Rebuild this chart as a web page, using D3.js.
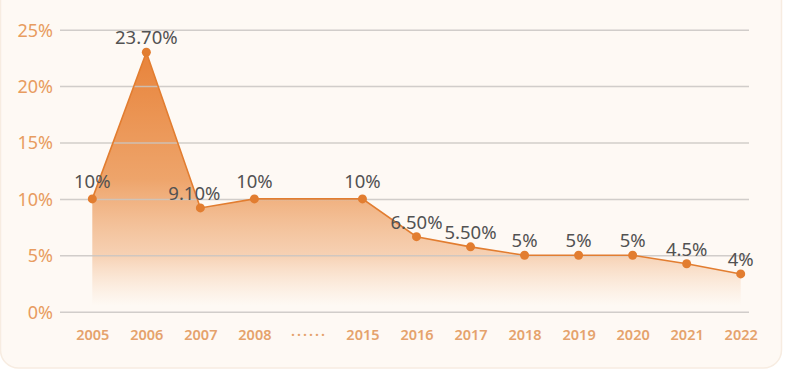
<!DOCTYPE html>
<html>
<head>
<meta charset="utf-8">
<script src="https://cdn.jsdelivr.net/npm/d3@7"></script>
<style>
    html, body { margin: 0; padding: 0; background: #ffffff; }
    #chart { width: 785px; height: 374px; }
</style>
</head>
<body>
<div id="chart"></div>
<script>
// categories along the x axis ("······" is the gap between 2008 and 2015)
const years = ["2005", "2006", "2007", "2008", "······", "2015", "2016", "2017", "2018", "2019", "2020", "2021", "2022"];
// plotted values (% , read from the point positions)
const rates = [10, 23.0, 9.2, 10, null, 10, 6.65, 5.75, 5, 5, 5, 4.25, 3.35];
// text shown above each point
const rateLabels = ["10%", "23.70%", "9.10%", "10%", "", "10%", "6.50%", "5.50%", "5%", "5%", "5%", "4.5%", "4%"];
const yTicks = [0, 5, 10, 15, 20, 25];

window.onload = () => {
    const width = 785;
    const height = 374;

    const svg = d3.select("#chart")
        .append("svg")
        .attr("width", width)
        .attr("height", height);

    // card background
    svg.append("rect")
        .attr("x", 0.5)
        .attr("y", -20)
        .attr("width", 781)
        .attr("height", 388)
        .attr("rx", 18)
        .attr("fill", "#fef9f4")
        .attr("stroke", "#f7ece1")
        .attr("stroke-width", 1.5);

    const x = d3.scalePoint()
        .domain(years)
        .range([92.3, 740.7]);

    const y = d3.scaleLinear()
        .domain([0, 25])
        .range([311.7, 29.7]);

    const points = years.map((d, i) => ({ year: d, value: rates[i], label: rateLabels[i] }))
        .filter(d => d.value != null);

    // gradient for the area
    const defs = svg.append("defs");
    const grad = defs.append("linearGradient")
        .attr("id", "areaFill")
        .attr("gradientUnits", "userSpaceOnUse")
        .attr("x1", 0).attr("x2", 0)
        .attr("y1", y(23)).attr("y2", y(0) - 6);
    grad.append("stop").attr("offset", 0).attr("stop-color", "#e8833a").attr("stop-opacity", 1);
    grad.append("stop").attr("offset", 0.5).attr("stop-color", "#eb9552").attr("stop-opacity", 0.85);
    grad.append("stop").attr("offset", 0.8).attr("stop-color", "#f0b07e").attr("stop-opacity", 0.55);
    grad.append("stop").attr("offset", 1).attr("stop-color", "#f6c9a2").attr("stop-opacity", 0);

    const area = d3.area()
        .x(d => x(d.year))
        .y0(y(0) - 6)
        .y1(d => y(d.value));

    svg.append("path")
        .datum(points)
        .attr("fill", "url(#areaFill)")
        .attr("d", area);

    // y axis with gridlines
    const yAxis = svg.append("g")
        .attr("transform", "translate(60,0)")
        .call(d3.axisLeft(y).tickValues(yTicks).tickSize(-689).tickFormat(d => d + "%"));
    yAxis.select(".domain").remove();
    yAxis.selectAll(".tick line")
        .attr("stroke", "#c9c6c2")
        .attr("stroke-opacity", 0.85)
        .attr("stroke-width", 1.5);
    yAxis.selectAll(".tick text")
        .attr("x", -7)
        .attr("dy", "0.36em")
        .attr("fill", "#e89c60")
        .attr("font-family", "Noto Sans")
        .attr("font-size", 18);

    // x axis labels
    const xAxis = svg.append("g")
        .attr("transform", "translate(0,312)")
        .call(d3.axisBottom(x).tickSize(0).tickPadding(18));
    xAxis.select(".domain").remove();
    xAxis.selectAll(".tick text")
        .attr("fill", "#e5a26c")
        .attr("font-family", "Noto Sans")
        .attr("font-weight", 600)
        .attr("font-size", 14.5)
        .attr("letter-spacing", d => d == "······" ? 2 : 0);

    // line
    const line = d3.line()
        .x(d => x(d.year))
        .y(d => y(d.value));

    svg.append("path")
        .datum(points)
        .attr("fill", "none")
        .attr("stroke", "#e27d30")
        .attr("stroke-width", 1.6)
        .attr("d", line);

    svg.selectAll("circle.pt")
        .data(points)
        .enter()
        .append("circle")
        .attr("class", "pt")
        .attr("cx", d => x(d.year))
        .attr("cy", d => y(d.value))
        .attr("r", 4.5)
        .attr("fill", "#e27d30");

    svg.selectAll("text.val")
        .data(points)
        .enter()
        .append("text")
        .attr("class", "val")
        .attr("x", d => x(d.year) + (d.year == "2007" ? -6 : 0))
        .attr("y", d => y(d.value) - (d.value == 10 ? 11 : 8))
        .attr("text-anchor", "middle")
        .attr("fill", "#525252")
        .attr("font-family", "Noto Sans")
        .attr("font-size", 18.5)
        .text(d => d.label);
};
</script>
</body>
</html>
